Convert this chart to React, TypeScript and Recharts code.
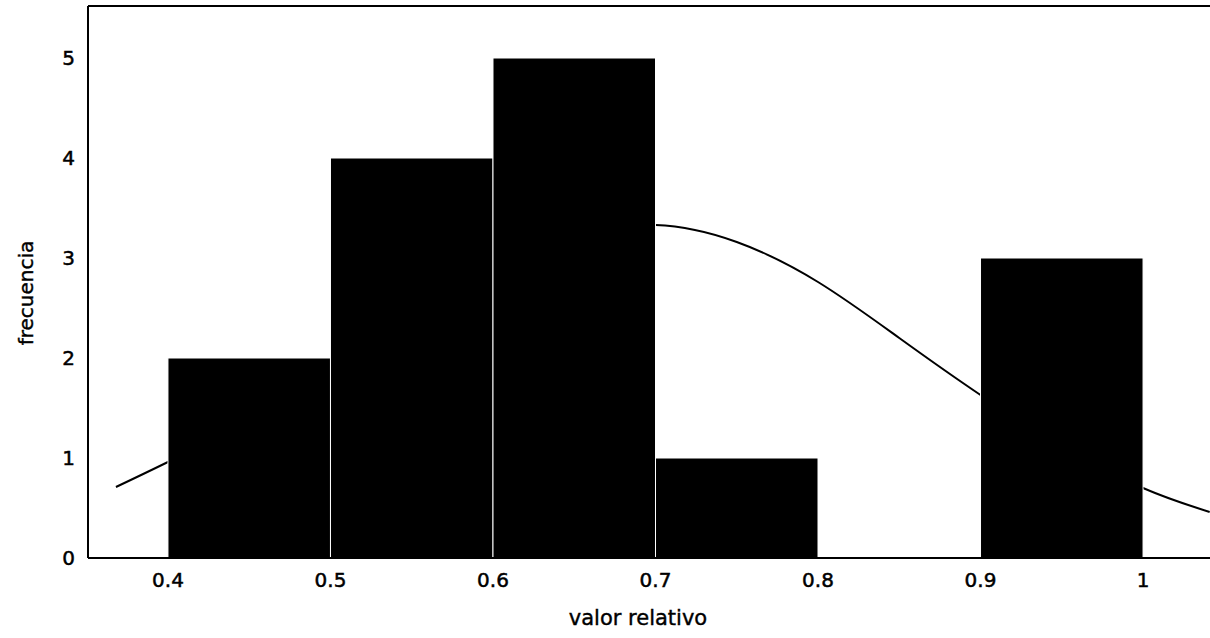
import React from 'react';
import { ComposedChart, Line, XAxis, YAxis, ReferenceArea, ReferenceLine, Label } from 'recharts';

// Histogram bins
const binStarts = [0.4, 0.5, 0.6, 0.7, 0.8, 0.9];
const binEnds = [0.5, 0.6, 0.7, 0.8, 0.9, 1.0];
const binCounts = [2, 4, 5, 1, 0, 3];

// Fitted curve
const curveX = [0.368, 0.4, 0.45, 0.5, 0.55, 0.6, 0.65, 0.7, 0.75, 0.8, 0.85, 0.9, 0.95, 1.0, 1.041];
const curveY = [0.71, 0.96, 1.38, 1.88, 2.42, 2.9, 3.22, 3.33, 3.16, 2.76, 2.2, 1.63, 1.12, 0.7, 0.46];

const xTicks = [0.4, 0.5, 0.6, 0.7, 0.8, 0.9, 1];
const yTicks = [0, 1, 2, 3, 4, 5];
const yMax = 5.52;

const curveData = curveX.map((x, i) => ({ x, y: curveY[i] }));

const FONT = 'DejaVu Sans, Liberation Sans, Arial, sans-serif';
const tickStyle = { fontFamily: FONT, fontSize: 20, fill: '#000', stroke: '#000', strokeWidth: 0.5 };

export default function App() {
  return (
    <div style={{ position: 'absolute', left: 0, top: 0, width: 1210, height: 638, background: '#fff' }}>
      <ComposedChart
        width={1210}
        height={638}
        data={curveData}
        margin={{ top: 6, right: 0, bottom: 0, left: 0 }}
      >
        <XAxis
          type="number"
          dataKey="x"
          domain={[0.3508, 1.0412]}
          allowDataOverflow
          ticks={xTicks}
          height={80}
          tickLine={false}
          tickSize={6}
          tickMargin={9}
          tick={tickStyle}
          axisLine={{ stroke: '#000', strokeWidth: 2 }}
        >
          <Label
            content={(props: any) => {
              const vb = props.viewBox;
              return (
                <text
                  x={vb.x + vb.width / 2 - 11}
                  y={vb.y + 61}
                  textAnchor="middle"
                  dominantBaseline="middle"
                  style={{ fontFamily: FONT, fontSize: 21, fill: '#000', stroke: '#000', strokeWidth: 0.4 }}
                >
                  valor relativo
                </text>
              );
            }}
          />
        </XAxis>
        <YAxis
          type="number"
          domain={[0, yMax]}
          allowDataOverflow
          ticks={yTicks}
          width={88}
          tickLine={false}
          tickSize={6}
          tickMargin={7}
          tick={tickStyle}
          axisLine={{ stroke: '#000', strokeWidth: 2 }}
        >
          <Label
            content={(props: any) => {
              const vb = props.viewBox;
              const cx = vb.x + 27;
              const cy = vb.y + vb.height / 2 + 11;
              return (
                <text
                  x={cx}
                  y={cy}
                  transform={`rotate(-90, ${cx}, ${cy})`}
                  textAnchor="middle"
                  dominantBaseline="middle"
                  style={{ fontFamily: FONT, fontSize: 20, fill: '#000', stroke: '#000', strokeWidth: 0.4 }}
                >
                  frecuencia
                </text>
              );
            }}
          />
        </YAxis>
        <ReferenceLine y={yMax} stroke="#000" strokeWidth={2} ifOverflow="visible" />
        <Line
          type="natural"
          dataKey="y"
          stroke="#000"
          strokeWidth={2}
          dot={false}
          activeDot={false}
          isAnimationActive={false}
        />
        {binStarts.map((s, i) =>
          binCounts[i] > 0 ? (
            <ReferenceArea
              key={i}
              x1={s}
              x2={binEnds[i]}
              y1={0}
              y2={binCounts[i]}
              fill="#000"
              fillOpacity={1}
              stroke="#fff"
              strokeWidth={1}
              ifOverflow="visible"
              {...({ zIndex: 450 } as any)}
            />
          ) : null
        )}
      </ComposedChart>
    </div>
  );
}
